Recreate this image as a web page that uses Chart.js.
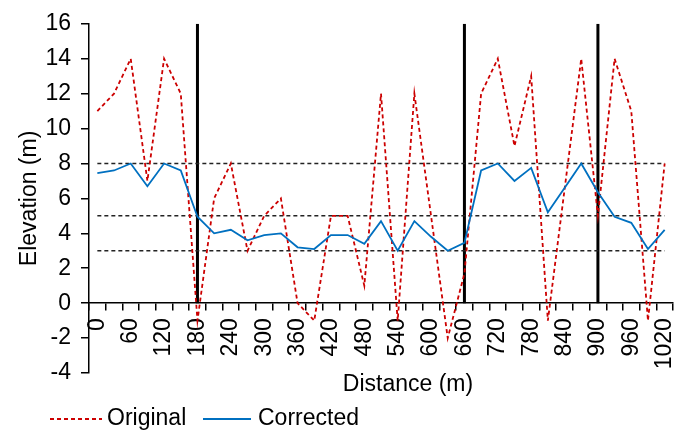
<!DOCTYPE html>
<html><head><meta charset="utf-8">
<script src="https://cdn.jsdelivr.net/npm/chart.js@4"></script>
<style>html,body{margin:0;padding:0;background:#fff}#wrap{width:688px;height:431px;position:relative}</style>
</head><body><div id="wrap"><canvas id="c"></canvas></div>
<script>
const categories = ['0','30','60','90','120','150','180','210','240','270','300','330','360','390','420','450','480','510','540','570','600','630','660','690','720','750','780','810','840','870','900','930','960','990','1020'];
const original = [11,12,14,7,14,12,-1,6,8,3,5,6,0,-1,5,5,1,12,-1,12,5,-2,1.7,12,14,9,13,-1,6.5,14,5,14,11,-1,8];
const corrected = [7.45,7.6,8,6.7,8,7.6,4.95,4,4.2,3.6,3.9,4,3.2,3.1,3.9,3.9,3.4,4.7,3,4.7,3.8,3,3.45,7.6,8,7,7.75,5.2,6.6,8,6.35,4.95,4.6,3.1,4.2];
const thresholds = [8,5,3];
const markerDistances = ['180','660','900'];
const markerTop = 16;
const yMin = -4, yMax = 16, yStep = 2;
const seriesNames = ['Original','Corrected'];
const xTitle = 'Distance (m)';
const yTitle = 'Elevation (m)';

const FONT = "'Liberation Sans', Arial, sans-serif";
const RED = 'rgb(204,0,0)';
const BLUE = 'rgb(0,112,192)';

const datasets = [
  {label: seriesNames[1], data: corrected, borderColor: BLUE, borderWidth: 1.8, pointRadius: 0, tension: 0, fill: false, order: 0},
  {label: seriesNames[0], data: original, borderColor: RED, borderWidth: 1.8, borderDash: [4,3], pointRadius: 0, tension: 0, fill: false, order: 1}
];
thresholds.forEach(t => datasets.push({
  label: 'ref' + t, data: [{x: categories[0], y: t}, {x: categories[categories.length-1], y: t}],
  borderColor: '#222', borderWidth: 1.5, borderDash: [4,3], pointRadius: 0, fill: false, order: 2
}));
markerDistances.forEach(m => datasets.push({
  label: 'mark' + m, data: [{x: m, y: 0}, {x: m, y: markerTop}],
  borderColor: '#000', borderWidth: 3, pointRadius: 0, fill: false, order: 3
}));

const extras = {
  id: 'extras',
  afterDraw(chart) {
    const ctx = chart.ctx;
    ctx.save();
    ctx.fillStyle = '#000';
    ctx.font = '23px ' + FONT;
    ctx.textAlign = 'center';
    ctx.textBaseline = 'middle';
    ctx.fillText(xTitle, 408, 385);
    const items = [
      {ds: chart.data.datasets[1], x0: 50, x1: 102, tx: 107},
      {ds: chart.data.datasets[0], x0: 203, x1: 251, tx: 258}
    ];
    ctx.textAlign = 'left';
    items.forEach(it => {
      ctx.beginPath();
      ctx.strokeStyle = it.ds.borderColor;
      ctx.lineWidth = 1.8;
      ctx.setLineDash(it.ds.borderDash || []);
      ctx.moveTo(it.x0, 419); ctx.lineTo(it.x1, 419);
      ctx.stroke();
      ctx.setLineDash([]);
      ctx.fillStyle = '#000';
      ctx.fillText(it.ds.label, it.tx, 419);
    });
    ctx.restore();
  }
};

new Chart(document.getElementById('c'), {
  type: 'line',
  data: {labels: categories, datasets},
  options: {
    responsive: true, maintainAspectRatio: false, animation: false,
    layout: {padding: {left: 0, right: 15, top: 20, bottom: 58}},
    plugins: {legend: {display: false}, tooltip: {enabled: false}},
    scales: {
      x: {
        type: 'category', offset: true, position: {y: 0},
        grid: {offset: true, drawOnChartArea: false, drawTicks: true, tickLength: 7, color: '#000', lineWidth: 1.5},
        border: {display: true, color: '#000', width: 1.5},
        ticks: {autoSkip: false, maxRotation: 90, minRotation: 90, padding: 8, color: '#000', font: {family: FONT, size: 23},
          callback(v, i) { return i % 2 === 0 ? this.getLabelForValue(v) : ''; }},
        afterFit(s) { s.paddingLeft = 0; s.paddingRight = 0; }
      },
      y: {
        min: yMin, max: yMax,
        ticks: {stepSize: yStep, color: '#000', padding: 10, font: {family: FONT, size: 23}},
        grid: {drawOnChartArea: false, drawTicks: true, tickLength: 8, color: '#000', lineWidth: 1.5},
        border: {display: true, color: '#000', width: 1.5},
        title: {display: true, text: yTitle, color: '#000', font: {family: FONT, size: 23}, padding: {top: 16, bottom: 2}},
        afterFit(s) { s.width = 89; }
      }
    }
  },
  plugins: [extras]
});
</script></body></html>
